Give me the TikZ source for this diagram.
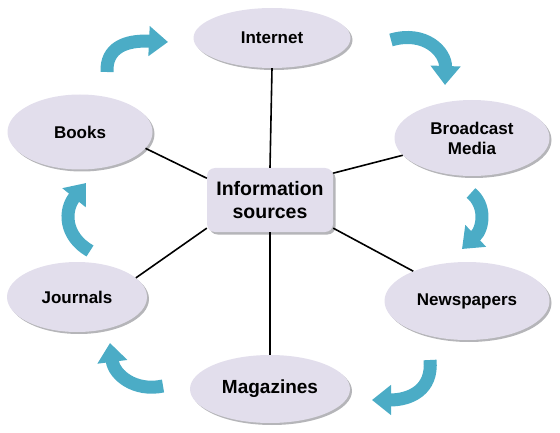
\documentclass[tikz,border=0pt]{standalone}
\usepackage{fontspec}
\setmainfont{Liberation Sans}
\usetikzlibrary{shapes.geometric,shadows,arrows.meta}
\definecolor{lav}{RGB}{226,222,236}
\definecolor{arrowc}{RGB}{75,172,198}
\definecolor{shad}{RGB}{150,150,155}
\tikzset{
  src/.style={ellipse, fill=lav, inner sep=0pt,
    drop shadow={shadow xshift=2pt, shadow yshift=-2pt, fill=shad, opacity=0.7},
    font=\fontsize{17}{20}\selectfont\bfseries, align=center},
  hub/.style={rectangle, rounded corners=8pt, fill=lav, inner sep=0pt,
    minimum width=126pt, minimum height=64pt,
    drop shadow={shadow xshift=2.5pt, shadow yshift=-2.5pt, fill=shad, opacity=0.7},
    font=\fontsize{19.5}{23}\selectfont\bfseries, align=center},
  link/.style={draw=black, line width=1.6pt},
  cyc/.style={draw=arrowc, line width=13pt, -{Triangle[length=19pt,width=29pt]}}
}
\begin{document}
\begin{tikzpicture}[x=1pt,y=-1pt]
\useasboundingbox (0,0) rectangle (560,433);
% nodes
\node[src, minimum width=157pt, minimum height=60pt] (internet) at (272,38) {Internet};
\node[src, minimum width=155pt, minimum height=76pt] (broadcast) at (472,138) {Broadcast\\Media};
\node[src, minimum width=165pt, minimum height=78pt] (news) at (467,301) {Newspapers};
\node[src, minimum width=160pt, minimum height=68pt, font=\fontsize{19}{22}\selectfont\bfseries] (mag) at (270,389) {Magazines};
\node[src, minimum width=140pt, minimum height=70pt] (journals) at (77,297) {Journals};
\node[src, minimum width=145pt, minimum height=75pt] (books) at (80,132) {Books};
\node[hub] (c) at (270,200) {Information\\sources};
% connectors
\draw[link] (c.north) -- (internet.south);
\draw[link] (c.23) -- (broadcast.194);
\draw[link] (c.-24) -- (news.151);
\draw[link] (c.south) -- (mag.north);
\draw[link] (c.204) -- (journals.18);
\draw[link] (c.161) -- (books.-14);
% cycle arrows
\draw[cyc] (107,72) .. controls (106,48) and (125,40) .. (168,42);
\draw[cyc] (391,40) .. controls (425,30) and (446,52) .. (445,85);
\draw[cyc] (471,193) .. controls (486,205) and (484,228) .. (462,249);
\draw[cyc] (430,360) .. controls (433,390) and (410,400) .. (372,400);
\draw[cyc] (163,386) .. controls (135,392) and (114,375) .. (110,343);
\draw[cyc] (90,251) .. controls (64,236) and (64,210) .. (86,183);
\end{tikzpicture}
\end{document}
